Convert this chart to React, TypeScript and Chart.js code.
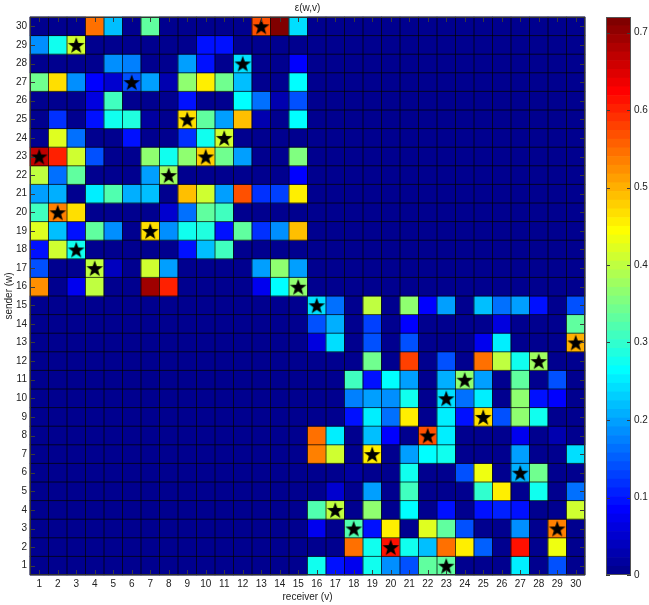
import React, { useEffect, useRef } from "react";
import { Chart, registerables } from "chart.js";

Chart.register(...registerables);

// ---------- data ----------
const receivers = [1,2,3,4,5,6,7,8,9,10,11,12,13,14,15,16,17,18,19,20,21,22,23,24,25,26,27,28,29,30];
const senders = [1,2,3,4,5,6,7,8,9,10,11,12,13,14,15,16,17,18,19,20,21,22,23,24,25,26,27,28,29,30];

// epsilon(w, v): one array per sender w, values for receivers 1..30
const w1  = [0,0,0,0,0,0,0,0,0,0,0,0,0,0,0, 0.27,0.10,0.07,0.28,0.18,0.14,0.33,0.33,0,0,0,0.25,0,0.14,0];
const w2  = [0,0,0,0,0,0,0,0,0,0,0,0,0,0,0, 0,0,0.54,0.28,0.61,0.27,0.22,0.54,0.45,0.15,0,0.61,0,0.43,0];
const w3  = [0,0,0,0,0,0,0,0,0,0,0,0,0,0,0, 0.07,0,0.32,0.09,0.45,0,0.42,0.33,0.14,0,0,0.19,0,0.53,0];
const w4  = [0,0,0,0,0,0,0,0,0,0,0,0,0,0,0, 0.32,0.40,0,0.37,0,0.26,0,0.09,0,0.10,0.11,0.10,0,0,0.41];
const w5  = [0,0,0,0,0,0,0,0,0,0,0,0,0,0,0, 0,0.05,0,0.20,0,0.31,0,0,0,0.30,0.45,0,0.27,0,0.16];
const w6  = [0,0,0,0,0,0,0,0,0,0,0,0,0,0,0, 0,0,0.02,0,0,0.27,0,0,0.14,0.43,0,0.21,0.34,0,0];
const w7  = [0,0,0,0,0,0,0,0,0,0,0,0,0,0,0, 0.53,0.41,0,0.46,0,0.20,0.26,0.27,0,0,0,0.20,0,0,0.24];
const w8  = [0,0,0,0,0,0,0,0,0,0,0,0,0,0,0, 0.54,0.25,0,0.22,0.08,0,0.57,0.25,0,0,0,0.07,0,0.03,0];
const w9  = [0,0,0,0,0,0,0,0,0,0,0,0,0,0,0, 0,0,0.09,0.25,0.16,0.45,0,0.25,0.09,0.47,0.14,0.37,0.27,0,0];
const w10 = [0,0,0,0,0,0,0,0,0,0,0,0,0,0,0, 0,0,0.17,0.20,0.19,0.27,0,0.24,0.16,0.25,0,0.36,0.09,0.08,0];
const w11 = [0,0,0,0,0,0,0,0,0,0,0,0,0,0,0, 0,0,0.31,0.10,0.26,0.20,0,0.21,0.36,0.20,0,0.33,0,0.14,0];
const w12 = [0,0,0,0,0,0,0,0,0,0,0,0,0,0,0, 0,0,0,0.34,0,0.58,0,0.14,0,0.55,0.40,0.27,0.38,0,0];
const w13 = [0,0,0,0,0,0,0,0,0,0,0,0,0,0,0, 0.06,0.24,0,0.14,0,0.14,0,0,0,0.07,0.25,0,0,0,0.50];
const w14 = [0,0,0,0,0,0,0,0,0,0,0,0,0,0,0, 0.14,0.21,0,0.13,0,0.08,0,0,0,0,0.06,0,0,0,0.33];
const w15 = [0,0,0,0,0,0,0,0,0,0,0,0,0,0,0, 0.24,0.16,0,0.40,0,0.37,0.08,0.20,0,0.22,0.16,0.20,0.09,0,0.14];
const w16 = [0.52,0,0.07,0.40,0,0,0.69,0.60,0,0,0,0,0.07,0.26,0.36, 0,0,0,0,0,0,0,0,0,0,0,0,0,0,0];
const w17 = [0.14,0,0,0.40,0.04,0,0.41,0.20,0,0,0,0,0.20,0.36,0.20, 0,0,0,0,0,0,0,0,0,0,0,0,0,0,0];
const w18 = [0.10,0.41,0.28,0,0,0,0,0,0.09,0.22,0.31,0,0,0,0, 0,0,0,0,0,0,0,0,0,0,0,0,0,0,0];
const w19 = [0.42,0.22,0.09,0.33,0.19,0,0.47,0.19,0.27,0.29,0.10,0.33,0.12,0.19,0.49, 0,0,0,0,0,0,0,0,0,0,0,0,0,0,0];
const w20 = [0.31,0.53,0.47,0,0,0,0,0.05,0.16,0.33,0.31,0,0,0,0, 0,0,0,0,0,0,0,0,0,0,0,0,0,0,0];
const w21 = [0.20,0.21,0,0.25,0.32,0.21,0.22,0,0.49,0.41,0.20,0.57,0.12,0.13,0.46, 0,0,0,0,0,0,0,0,0,0,0,0,0,0,0];
const w22 = [0.40,0.16,0.33,0,0,0,0.20,0.38,0,0,0,0,0,0,0.08, 0,0,0,0,0,0,0,0,0,0,0,0,0,0,0];
const w23 = [0.67,0.60,0.41,0.14,0,0,0.36,0.28,0.36,0.48,0.34,0.20,0,0,0.35, 0,0,0,0,0,0,0,0,0,0,0,0,0,0,0];
const w24 = [0,0.42,0.16,0,0,0.10,0,0,0.12,0.27,0.41,0,0,0,0, 0,0,0,0,0,0,0,0,0,0,0,0,0,0,0];
const w25 = [0,0.12,0,0.09,0.27,0.29,0.02,0,0.47,0.33,0.20,0.49,0.03,0,0.26, 0,0,0,0,0,0,0,0,0,0,0,0,0,0,0];
const w26 = [0,0,0,0.06,0.31,0,0,0,0.10,0,0,0.26,0.16,0.03,0.14, 0,0,0,0,0,0,0,0,0,0,0,0,0,0,0];
const w27 = [0.34,0.47,0.18,0.08,0.05,0.14,0.20,0.03,0.37,0.45,0.34,0.22,0,0,0.26, 0,0,0,0,0,0,0,0,0,0,0,0,0,0,0];
const w28 = [0,0,0,0,0.18,0.17,0,0,0.20,0.09,0,0.24,0,0,0.08, 0,0,0,0,0,0,0,0,0,0,0,0,0,0,0];
const w29 = [0.18,0.28,0.41,0,0,0,0,0,0,0.09,0.09,0,0,0,0, 0,0,0,0,0,0,0,0,0,0,0,0,0,0,0];
const w30 = [0,0,0,0.55,0.22,0,0.33,0,0,0,0,0,0.57,0.72,0.24, 0,0,0,0,0,0,0,0,0,0,0,0,0,0,0];

const senderRows = [w1,w2,w3,w4,w5,w6,w7,w8,w9,w10,w11,w12,w13,w14,w15,w16,w17,w18,w19,w20,w21,w22,w23,w24,w25,w26,w27,w28,w29,w30];

// star markers (receiver v, sender w)
const starReceivers = [13,3,12,6,9,11,1,10,8,2,7,3,4,15,16,30,28,24,23,25,22,19,27,17,18,29,20,23];
const starSenders   = [30,29,28,27,25,24,23,23,22,20,19,18,17,16,15,13,12,11,10,9,8,7,6,4,3,3,2,1];

const colorbarTicks = [0,0.1,0.2,0.3,0.4,0.5,0.6,0.7];

const titleText = "ε(w,v)";
const xTitle = "receiver (v)";
const yTitle = "sender (w)";

// ---------- helpers ----------
const FONT = "'Liberation Sans', Arial, Helvetica, sans-serif";
const TEXT = "#222";
const NCOL = 64;

function clamp01(v: number) { return Math.max(0, Math.min(1, v)); }
// MATLAB jet(64), 1-based index
function jetIndex(k: number) {
  const r = clamp01(Math.min((k - 24) / 16, (72 - k) / 16));
  const g = clamp01(Math.min((k - 8) / 16, (56 - k) / 16));
  const b = clamp01(Math.min((k + 8) / 16, (40 - k) / 16));
  return `rgb(${Math.round(r * 255)},${Math.round(g * 255)},${Math.round(b * 255)})`;
}
const allValues = senderRows.flat();
const cMin = Math.min(...allValues);
const cMax = Math.max(...allValues);
function colorFor(v: number) {
  const k = Math.min(NCOL, Math.floor(((v - cMin) / (cMax - cMin)) * NCOL) + 1);
  return jetIndex(k);
}

function makeStar(size: number) {
  const c = document.createElement("canvas");
  c.width = size; c.height = size;
  const g = c.getContext("2d")!;
  const cx = size / 2, cy = size / 2 + 0.9;
  const R = size / 2 - 0.3, r = R * 0.4;
  g.beginPath();
  for (let i = 0; i < 10; i++) {
    const a = -Math.PI / 2 + (i * Math.PI) / 5;
    const rad = i % 2 === 0 ? R : r;
    g.lineTo(cx + rad * Math.cos(a), cy + rad * Math.sin(a));
  }
  g.closePath();
  g.fillStyle = "#000";
  g.fill();
  return c;
}

const heatmapPlugin = {
  id: "heatmapCells",
  beforeDatasetsDraw(chart: any) {
    const { ctx, scales } = chart;
    const x = scales.x, y = scales.y;
    ctx.save();
    senderRows.forEach((row, ri) => {
      const w = senders[ri];
      row.forEach((v, ci) => {
        const r = receivers[ci];
        const x0 = x.getPixelForValue(r - 0.5), x1 = x.getPixelForValue(r + 0.5);
        const y0 = y.getPixelForValue(w + 0.5), y1 = y.getPixelForValue(w - 0.5);
        ctx.fillStyle = colorFor(v);
        ctx.fillRect(x0 - 0.3, y0 - 0.3, x1 - x0 + 0.6, y1 - y0 + 0.6);
      });
    });
    // cell edges
    ctx.strokeStyle = "rgba(0,0,0,0.9)";
    ctx.lineWidth = 0.8;
    ctx.beginPath();
    for (let i = 0; i <= receivers.length; i++) {
      const px = x.getPixelForValue(receivers[0] - 0.5 + i);
      ctx.moveTo(px, y.top); ctx.lineTo(px, y.bottom);
    }
    for (let i = 0; i <= senders.length; i++) {
      const py = y.getPixelForValue(senders[0] - 0.5 + i);
      ctx.moveTo(x.left, py); ctx.lineTo(x.right, py);
    }
    ctx.stroke();
    ctx.restore();
  },
  afterDraw(chart: any) {
    const { ctx, chartArea: a, scales } = chart;
    const x = scales.x, y = scales.y;
    ctx.save();
    ctx.strokeStyle = "#3a3a3a";
    ctx.lineWidth = 1;
    ctx.beginPath();
    const L = 5;
    receivers.forEach((v) => {
      const px = Math.round(x.getPixelForValue(v)) + 0.5;
      ctx.moveTo(px, a.top); ctx.lineTo(px, a.top + L);
      ctx.moveTo(px, a.bottom); ctx.lineTo(px, a.bottom - L);
    });
    senders.forEach((v) => {
      const py = Math.round(y.getPixelForValue(v)) + 0.5;
      ctx.moveTo(a.left, py); ctx.lineTo(a.left + L, py);
      ctx.moveTo(a.right, py); ctx.lineTo(a.right - L, py);
    });
    ctx.stroke();
    ctx.strokeStyle = "#333";
    ctx.strokeRect(a.left + 0.5, a.top + 0.5, a.right - a.left - 1, a.bottom - a.top - 1);
    ctx.restore();
  },
};

const colorbarPlugin = {
  id: "colorbarFrame",
  afterDraw(chart: any) {
    const { ctx, chartArea: a, scales } = chart;
    const y = scales.y;
    ctx.save();
    ctx.strokeStyle = "#3a3a3a";
    ctx.lineWidth = 1;
    ctx.beginPath();
    colorbarTicks.forEach((t) => {
      const py = Math.round(y.getPixelForValue(t)) + 0.5;
      ctx.moveTo(a.left, py); ctx.lineTo(a.left + 4, py);
      ctx.moveTo(a.right, py); ctx.lineTo(a.right - 4, py);
    });
    ctx.stroke();
    ctx.strokeStyle = "#555";
    ctx.strokeRect(a.left + 0.5, a.top + 0.5, a.right - a.left - 1, a.bottom - a.top - 1);
    ctx.restore();
  },
};

export default function App() {
  const mainRef = useRef<HTMLCanvasElement>(null);
  const cbRef = useRef<HTMLCanvasElement>(null);

  useEffect(() => {
    const star = makeStar(18);
    const tickFont = { family: FONT, size: 10 };
    const main = new Chart(mainRef.current!, {
      type: "scatter",
      data: {
        datasets: [
          {
            data: starReceivers.map((v, i) => ({ x: v, y: starSenders[i] })),
            pointStyle: star as any,
            pointRadius: 9,
            backgroundColor: "#000",
            borderColor: "#000",
            clip: false as any,
          },
        ],
      },
      options: {
        animation: false,
        responsive: false,
        maintainAspectRatio: false,
        events: [],
        layout: { padding: { left: 0, right: 5, top: 0, bottom: 0 } },
        plugins: {
          legend: { display: false },
          tooltip: { enabled: false },
          title: {
            display: true,
            fullSize: false,
            text: titleText,
            color: TEXT,
            font: { family: FONT, size: 10, weight: "normal" as any },
            padding: { top: 2, bottom: 3 },
          },
        },
        scales: {
          x: {
            type: "linear",
            min: 0.5,
            max: 30.5,
            afterBuildTicks: (s: any) => { s.ticks = receivers.map((v) => ({ value: v })); },
            afterFit: (s: any) => { s.height = 30; },
            ticks: { autoSkip: false, maxRotation: 0, color: TEXT, font: tickFont, padding: 3 },
            grid: { display: false, drawTicks: false },
            border: { display: false },
            title: { display: true, text: xTitle, color: TEXT, font: tickFont, padding: { top: 0, bottom: 2 } },
          },
          y: {
            type: "linear",
            min: 0.5,
            max: 30.5,
            afterBuildTicks: (s: any) => { s.ticks = senders.map((v) => ({ value: v })); },
            afterFit: (s: any) => { s.width = 30; },
            ticks: { autoSkip: false, color: TEXT, font: tickFont, padding: 3 },
            grid: { display: false, drawTicks: false },
            border: { display: false },
            title: { display: true, text: yTitle, color: TEXT, font: tickFont, padding: { top: 3, bottom: 0 } },
          },
        },
      },
      plugins: [heatmapPlugin],
    });

    const step = cMax / NCOL;
    const cbDatasets = [];
    for (let k = 1; k <= NCOL; k++) {
      cbDatasets.push({
        data: [step],
        backgroundColor: jetIndex(k),
        borderWidth: 0,
        barPercentage: 1,
        categoryPercentage: 1,
        stack: "cb",
      });
    }
    const cb = new Chart(cbRef.current!, {
      type: "bar",
      data: { labels: [""], datasets: cbDatasets as any },
      options: {
        animation: false,
        responsive: false,
        maintainAspectRatio: false,
        events: [],
        layout: { padding: { left: 6, right: 0, top: 17, bottom: 30 } },
        plugins: { legend: { display: false }, tooltip: { enabled: false }, title: { display: false } },
        scales: {
          x: { display: false, stacked: true },
          y: {
            stacked: true,
            position: "right",
            min: 0,
            max: cMax,
            afterBuildTicks: (s: any) => { s.ticks = colorbarTicks.map((v) => ({ value: v })); },
            afterFit: (s: any) => { s.width = 18; },
            ticks: {
              color: TEXT,
              font: tickFont,
              padding: 3,
              callback: (v: any) => (v === 0 ? "0" : Number(v).toFixed(1)),
            },
            grid: { display: false, drawTicks: false },
            border: { display: false },
          },
        },
      },
      plugins: [colorbarPlugin],
    });

    return () => {
      main.destroy();
      cb.destroy();
    };
  }, []);

  return (
    <div style={{ position: "absolute", left: 0, top: 0, width: 649, height: 605, background: "#fff", overflow: "hidden" }}>
      <canvas ref={mainRef} width={595} height={605} style={{ position: "absolute", left: 0, top: 0, width: 595, height: 605 }} />
      <canvas ref={cbRef} width={49} height={605} style={{ position: "absolute", left: 600, top: 0, width: 49, height: 605 }} />
    </div>
  );
}
